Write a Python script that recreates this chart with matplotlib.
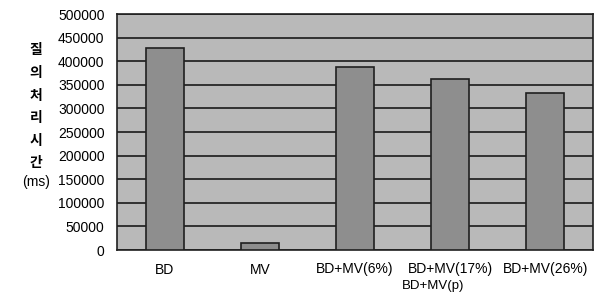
import matplotlib.pyplot as plt
import numpy as np

plt.rcParams['font.family'] = ['Liberation Sans', 'Noto Sans CJK KR', 'DejaVu Sans']

# Data
categories = ['BD', 'MV', 'BD+MV(6%)', 'BD+MV(17%)', 'BD+MV(26%)']
times = [428000, 14000, 388000, 362000, 333000]
yticks = np.arange(0, 500001, 50000)
ylabel_chars = ['질', '의', '처', '리', '시', '간', '(ms)']

fig = plt.figure(figsize=(5.99, 2.94), dpi=100)
ax = fig.add_axes([117 / 599, 1 - 250 / 294, 476 / 599, 236 / 294])
ax.set_facecolor('#b9b9b9')

x = np.arange(len(categories))
ax.bar(x, times, width=0.4, color='#8e8e8e', edgecolor='#202020', linewidth=1.2, zorder=3)

ax.set_ylim(0, 500000)
ax.set_xlim(-0.5, len(categories) - 0.5)
ax.set_yticks(yticks)
ax.set_yticklabels([str(v) for v in yticks], fontsize=10)
ax.set_xticks(x)
ax.set_xticklabels(categories, fontsize=10)
ax.tick_params(length=0, pad=9)
ax.tick_params(axis='x', pad=9)
ax.yaxis.grid(True, color='#1a1a1a', linewidth=1.2, zorder=1)
for s in ax.spines.values():
    s.set_color('#202020')
    s.set_linewidth(1.2)

# second line under the 17% label
ax.text(2.82, -0.128, 'BD+MV(p)', transform=ax.get_xaxis_transform(),
        ha='center', va='top', fontsize=9.5)

# vertical Korean y label
ys = [50, 73, 96, 118, 141, 163, 182]
for ch, yy in zip(ylabel_chars, ys):
    fig.text(36 / 599, 1 - yy / 294, ch, ha='center', va='center', fontsize=10,
             fontweight='bold' if ch != '(ms)' else 'normal')

fig.savefig('out.png', dpi=100)
